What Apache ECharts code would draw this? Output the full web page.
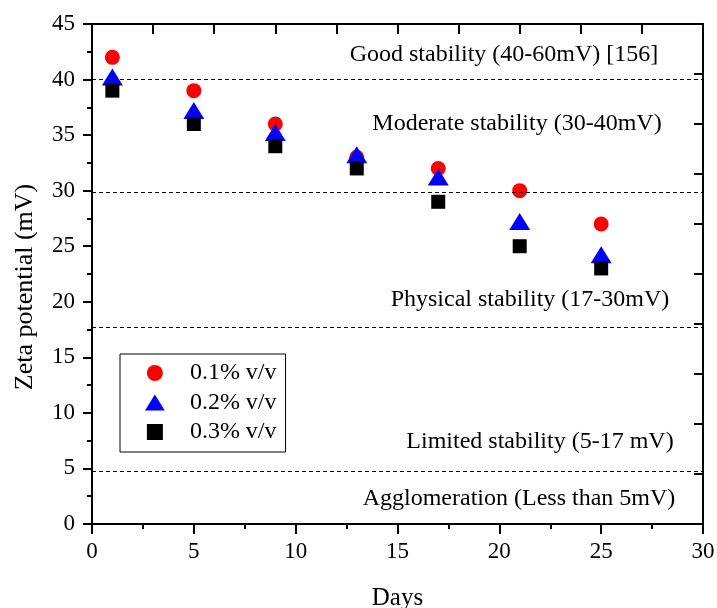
<!DOCTYPE html>
<html>
<head>
<meta charset="utf-8">
<script src="https://cdn.jsdelivr.net/npm/echarts@6/dist/echarts.min.js"></script>
<style>
html,body{margin:0;padding:0;background:#fff;overflow:hidden;width:717px;height:608px;}
#chart{width:717px;height:608px;}
</style>
</head>
<body>
<div id="chart"></div>
<script>
// ---- data ----
var days = [1, 5, 9, 13, 17, 21, 25];
var series01 = [42, 39, 36, 33, 32, 30, 27];
var series02 = [40, 37, 35, 33, 31, 27, 24];
var series03 = [39, 36, 34, 32, 29, 25, 23];
var seriesNames = ['0.1% v/v', '0.2% v/v', '0.3% v/v'];
var thresholds = [40, 29.9, 17.75, 4.75];
var zoneLabels = [
  'Good stability (40-60mV) [156]',
  'Moderate stability (30-40mV)',
  'Physical stability (17-30mV)',
  'Limited stability (5-17 mV)',
  'Agglomeration (Less than 5mV)'
];
var xTitle = 'Days';
var yTitle = 'Zeta potential (mV)';

function pairs(xs, ys) { return xs.map(function (x, i) { return [x, ys[i]]; }); }

var FONT = 'Liberation Serif';
var zonePos = [[504, 55], [517, 124], [530, 300], [540, 442], [519, 499]];
var legendIcons = ['circle', 'path://M10.5,0L21,17L0,17Z', 'path://M0,0L14,0L14,14L0,14Z'];

var chart = echarts.init(document.getElementById('chart'), null, { renderer: 'canvas', width: 717, height: 608 });
var option = {
  backgroundColor: '#fff',
  animation: false,
  textStyle: { fontFamily: FONT },
  grid: { left: 92, right: 14, top: 24, bottom: 84, containLabel: false, outerBoundsMode: 'none' },
  xAxis: [
    {
      type: 'value', position: 'bottom', min: 0, max: 30, interval: 5,
      name: xTitle, nameLocation: 'middle', nameGap: 62,
      nameTextStyle: { fontFamily: FONT, fontSize: 25, color: '#000' },
      axisLine: { onZero: false, lineStyle: { color: '#000', width: 2 } },
      axisTick: { show: true, inside: false, length: 10, lineStyle: { color: '#000', width: 2 } },
      minorTick: { show: true, splitNumber: 2, length: 5, lineStyle: { color: '#000', width: 2 } },
      axisLabel: { fontFamily: FONT, fontSize: 23, color: '#000', margin: 16 },
      splitLine: { show: false }
    },
    {
      type: 'value', position: 'top', min: 0, max: 30, interval: 3,
      axisLine: { onZero: false, lineStyle: { color: '#000', width: 2 } },
      axisTick: { show: true, inside: true, length: 10, lineStyle: { color: '#000', width: 2 } },
      axisLabel: { show: false },
      splitLine: { show: false }
    }
  ],
  yAxis: [
    {
      type: 'value', position: 'left', min: 0, max: 45, interval: 5,
      axisLine: { onZero: false, lineStyle: { color: '#000', width: 2 } },
      axisTick: { show: true, inside: false, length: 9, lineStyle: { color: '#000', width: 2 } },
      minorTick: { show: true, splitNumber: 2, length: 5, lineStyle: { color: '#000', width: 2 } },
      axisLabel: { fontFamily: FONT, fontSize: 23, color: '#000', margin: 17 },
      splitLine: { show: false }
    },
    {
      type: 'value', position: 'right', min: 0, max: 45, interval: 4.5,
      axisLine: { onZero: false, lineStyle: { color: '#000', width: 2 } },
      axisTick: { show: true, inside: true, length: 9, lineStyle: { color: '#000', width: 2 } },
      axisLabel: { show: false },
      splitLine: { show: false }
    }
  ],
  legend: {
    orient: 'vertical', left: 120, top: 354,
    padding: [7, 9, 8, 25],
    itemWidth: 60, itemHeight: 16, itemGap: 5.5,
    borderColor: '#000', borderWidth: 1, backgroundColor: '#fff',
    selectedMode: false,
    textStyle: { fontFamily: FONT, fontSize: 24, color: '#000' },
    data: seriesNames.map(function (n, i) { return { name: n, icon: legendIcons[i] }; })
  },
  graphic: zoneLabels.map(function (t, i) {
    return {
      type: 'text', x: zonePos[i][0], y: zonePos[i][1], silent: true,
      style: { text: t, fontFamily: FONT, fontSize: 24, fill: '#000', align: 'center', verticalAlign: 'middle' }
    };
  }).concat([{
    type: 'text', x: 25, y: 287, rotation: Math.PI / 2, silent: true,
    style: { text: yTitle, fontFamily: FONT, fontSize: 26, fill: '#000', align: 'center', verticalAlign: 'middle' }
  }]),
  series: [
    {
      name: seriesNames[0], type: 'scatter', data: pairs(days, series01),
      symbol: 'circle', symbolSize: 15, itemStyle: { color: '#ff0000', opacity: 1 },
      z: 3,
      markLine: {
        silent: true, symbol: ['none', 'none'], label: { show: false },
        lineStyle: { color: '#000', width: 1, type: [4, 3] },
        emphasis: { disabled: true },
        data: thresholds.map(function (v) { return { yAxis: v }; })
      }
    },
    {
      name: seriesNames[1], type: 'scatter', data: pairs(days, series02),
      symbol: 'triangle', symbolSize: [21, 17], symbolOffset: [0, -2.5],
      itemStyle: { color: '#0000ff', opacity: 1 }, z: 4
    },
    {
      name: seriesNames[2], type: 'scatter', data: pairs(days, series03),
      symbol: 'rect', symbolSize: 14,
      itemStyle: { color: '#000000', opacity: 1 }, z: 5
    }
  ]
};
chart.setOption(option);
</script>
</body>
</html>
